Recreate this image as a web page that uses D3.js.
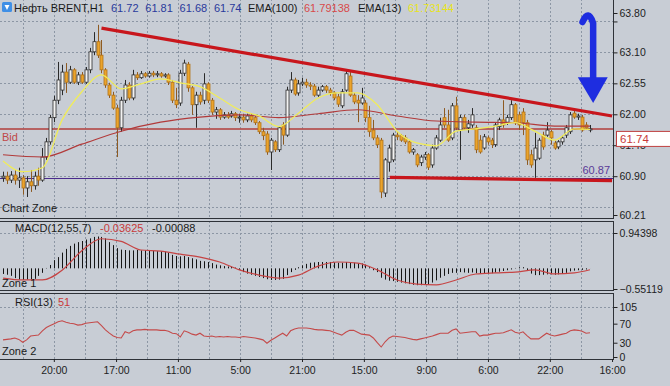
<!DOCTYPE html>
<html>
<head>
<meta charset="utf-8">
<script src="https://cdn.jsdelivr.net/npm/d3@7"></script>
<style>
body { margin: 0; background: #c8cdd5; }
svg text { font-family: "Liberation Sans", Arial, sans-serif; }
</style>
</head>
<body>
<svg id="chart" width="670" height="386"></svg>
<script>
// Нефть BRENT H1 - open, high, low, close per bar
var candles = [
[60.87,60.98,60.80,60.90],[60.90,60.98,60.76,60.83],[60.83,60.99,60.78,60.92],[60.92,61.01,60.75,60.83],
[60.83,61.05,60.69,60.87],[60.87,60.92,60.57,60.69],[60.69,60.90,60.53,60.80],[60.80,61.01,60.62,60.73],
[60.73,60.98,60.66,60.90],[60.90,61.05,60.73,60.83],[60.83,61.40,60.80,61.24],[61.24,61.58,61.19,61.51],
[61.51,61.99,61.46,61.94],[61.94,62.33,61.86,62.25],[62.25,62.93,62.18,62.61],[62.43,62.88,62.34,62.75],
[62.75,62.91,62.38,62.57],[62.57,62.86,62.54,62.79],[62.79,62.82,62.54,62.57],[62.57,62.75,62.52,62.70],
[62.70,62.75,62.54,62.57],[62.57,62.84,62.54,62.79],[62.79,63.18,62.73,63.11],[63.11,63.46,63.05,63.29],
[63.29,63.59,63.00,63.05],[63.05,63.32,62.73,62.79],[62.79,62.82,62.47,62.52],[62.52,62.56,62.29,62.34],
[62.34,62.40,62.08,62.11],[62.11,62.17,61.24,61.76],[61.76,62.31,61.69,62.25],[62.25,62.61,62.20,62.52],
[62.52,62.57,62.25,62.29],[62.29,62.79,62.25,62.70],[62.70,62.75,62.61,62.65],[62.65,62.77,62.63,62.72],
[62.72,62.75,62.65,62.68],[62.68,62.77,62.65,62.73],[62.73,62.77,62.66,62.70],[62.70,62.77,62.66,62.72],
[62.72,62.75,62.65,62.68],[62.68,62.73,62.65,62.70],[62.70,62.73,62.52,62.57],[62.57,62.61,62.20,62.25],
[62.25,62.47,62.11,62.17],[62.20,62.79,62.15,62.73],[62.73,62.97,62.68,62.91],[62.89,62.93,62.40,62.47],
[62.47,62.50,61.99,62.17],[62.17,62.40,61.76,62.34],[62.34,62.40,62.17,62.22],[62.25,62.73,62.18,62.54],
[62.54,62.57,62.20,62.25],[62.25,62.29,61.99,62.04],[62.04,62.13,61.92,62.08],[62.08,62.11,61.90,61.95],
[61.95,62.04,61.92,61.99],[61.99,62.04,61.92,61.95],[61.97,62.06,61.94,62.01],[62.01,62.04,61.88,61.94],
[61.94,62.01,61.85,61.95],[61.95,62.01,61.85,61.90],[61.90,62.01,61.86,61.97],[61.97,62.02,61.86,61.90],
[61.94,61.97,61.81,61.85],[61.85,61.88,61.65,61.69],[61.69,61.76,61.54,61.62],[61.65,61.70,61.28,61.33],
[61.33,61.58,61.01,61.54],[61.51,61.54,61.33,61.37],[61.37,61.79,61.33,61.76],[61.81,61.86,61.46,61.63],
[61.63,62.49,61.60,62.43],[62.43,62.75,62.38,62.61],[62.61,62.65,62.33,62.36],[62.38,62.61,62.33,62.54],
[62.54,62.65,62.50,62.57],[62.57,62.63,62.47,62.52],[62.52,62.57,62.43,62.50],[62.50,62.54,62.31,62.34],
[62.34,62.49,62.31,62.43],[62.43,62.52,62.40,62.49],[62.49,62.52,62.38,62.43],[62.43,62.47,62.33,62.38],
[62.38,62.41,62.25,62.29],[62.31,62.36,62.13,62.18],[62.15,62.45,62.11,62.40],[62.43,62.79,62.40,62.72],
[62.68,62.75,62.31,62.34],[62.34,62.38,62.18,62.22],[62.25,62.34,61.86,62.20],[62.20,62.47,62.17,62.29],
[62.20,62.25,61.86,61.94],[61.94,62.15,61.60,61.69],[61.72,61.90,61.54,61.58],[61.58,61.63,61.40,61.46],
[61.54,61.58,60.51,60.62],[60.60,61.22,60.53,61.19],[61.15,61.46,60.98,61.40],[61.19,61.67,61.15,61.63],
[61.63,61.69,61.54,61.60],[61.62,61.65,61.51,61.54],[61.58,61.63,61.47,61.51],[61.51,61.54,61.30,61.33],
[61.33,61.40,61.28,61.37],[61.28,61.31,61.06,61.10],[61.14,61.28,61.08,61.24],[61.24,61.33,61.19,61.28],
[61.28,61.31,61.01,61.06],[61.10,61.46,61.05,61.40],[61.40,61.63,61.37,61.58],[61.54,61.94,61.51,61.81],
[61.94,62.11,61.76,61.81],[61.81,62.08,61.51,61.54],[61.58,62.20,61.54,62.15],[62.15,62.31,61.72,61.76],
[61.72,61.99,61.19,61.94],[61.94,61.99,61.72,61.76],[61.76,61.90,61.67,61.83],[61.81,62.11,61.76,61.99],
[61.76,61.81,61.31,61.37],[61.54,61.63,61.30,61.33],[61.40,61.65,61.37,61.60],[61.58,61.62,61.46,61.51],
[61.54,61.58,61.40,61.46],[61.46,61.86,61.42,61.81],[61.78,61.94,61.72,61.90],[61.90,62.25,61.76,61.81],
[61.86,61.99,61.81,61.94],[61.94,62.25,61.90,62.17],[62.17,62.20,61.81,61.85],[61.99,62.04,61.72,61.81],
[62.04,62.11,61.63,61.85],[61.85,61.90,61.10,61.19],[61.28,61.37,61.05,61.10],[61.19,61.67,60.87,61.40],
[61.22,61.58,61.19,61.54],[61.63,61.69,61.37,61.42],[61.63,61.86,61.60,61.72],[61.69,61.72,61.46,61.58],
[61.49,61.53,61.37,61.40],[61.42,61.54,61.38,61.51],[61.51,61.62,61.46,61.58],[61.63,61.81,61.58,61.76],
[61.69,62.04,61.65,61.99],[62.02,62.10,61.92,61.95],[61.95,62.01,61.90,61.97],[61.95,61.99,61.69,61.72],
[61.81,61.86,61.72,61.76],[61.72,61.81,61.68,61.74]
];

var ema13Bars = [0,5,10,15,20,25,30,35,40,45,50,55,60,65,70,75,80,85,90,95,100,105,110,115,120,125,130,135,140,145,149];
var ema13 = [61.17,60.98,61.05,61.90,62.40,62.70,62.45,62.54,62.63,62.56,62.49,62.29,62.08,61.97,61.78,62.02,
             62.29,62.38,62.38,62.17,61.70,61.49,61.44,61.70,61.74,61.79,61.85,61.70,61.54,61.74,61.73];
var ema100Bars = [0,10,20,30,40,50,60,70,80,90,100,110,120,130,140,149];
var ema100 = [61.28,61.24,61.47,61.70,61.86,61.95,61.99,61.94,62.01,62.08,61.97,61.88,61.86,61.85,61.79,61.79];

var macdHist = [
-0.15,-0.17,-0.20,-0.26,-0.30,-0.31,-0.30,-0.30,-0.28,-0.20,-0.12,0.01,0.09,0.22,0.30,0.42,0.52,0.60,0.66,0.70,
0.73,0.77,0.80,0.84,0.85,0.84,0.80,0.70,0.62,0.54,0.50,0.49,0.48,0.48,0.49,0.48,0.48,0.47,0.47,0.46,
0.46,0.45,0.42,0.36,0.33,0.32,0.33,0.30,0.27,0.24,0.20,0.19,0.17,0.14,0.10,0.08,0.06,0.05,0.04,0.02,
-0.04,-0.10,-0.14,-0.17,-0.20,-0.23,-0.26,-0.29,-0.31,-0.31,-0.30,-0.28,-0.18,-0.10,-0.04,0.03,0.08,0.12,0.15,0.16,
0.17,0.17,0.17,0.17,0.16,0.15,0.15,0.17,0.16,0.15,0.14,0.13,0.10,0.03,-0.05,-0.10,-0.25,-0.30,-0.33,-0.34,
-0.36,-0.38,-0.40,-0.42,-0.44,-0.45,-0.45,-0.44,-0.43,-0.38,-0.32,-0.25,-0.20,-0.15,-0.12,-0.12,-0.10,-0.11,-0.12,-0.11,
-0.13,-0.14,-0.13,-0.14,-0.13,-0.11,-0.09,-0.07,-0.05,-0.03,0.01,0.03,0.03,-0.05,-0.14,-0.18,-0.18,-0.17,-0.16,-0.16,
-0.17,-0.16,-0.15,-0.12,-0.08,-0.06,-0.05,-0.04,-0.03,-0.00088
];
var signalBars = ema13Bars;
var macdSignal = [-0.26,-0.31,-0.31,-0.05,0.47,0.79,0.72,0.49,0.46,0.38,0.30,0.17,-0.04,-0.18,-0.26,-0.18,
                  0.06,0.17,0.14,-0.04,-0.31,-0.42,-0.44,-0.31,-0.15,-0.12,-0.10,-0.04,-0.15,-0.12,-0.03625];

var rsi = [
36,37,38,40,37,31,36,44,45,46,55,62,66,70,74,76,73,71,70,67,
68,71,72,73,74,66,57,50,44,41,40,53,50,55,57,57,58,57,57,57,
56,56,54,50,49,42,55,52,48,46,50,44,43,44,42,43,42,43,42,42,
41,43,42,41,40,38,36,29,35,40,45,50,44,55,59,61,61,61,60,58,
57,57,56,55,52,49,46,52,56,56,52,48,47,46,40,30,21,32,40,44,
43,42,41,39,37,36,38,40,42,44,47,50,50,50,56,59,50,51,52,53,
53,44,46,46,48,50,50,51,54,57,52,50,53,45,38,38,38,44,50,46,
44,46,48,50,55,57,56,54,50,51
];

var priceTicks = [63.80, 63.10, 62.55, 62.00, 61.45, 60.90, 60.21];
var priceGrid = [63.65, 63.10, 62.55, 62.00, 61.45, 60.90, 60.35];
var macdTicks = [0.94398, -0.55119];
var rsiTicks = [105, 70, 30, 0];
var timeLabels = ["20:00","17:00","11:00","5:00","21:00","15:00","9:00","6:00","22:00","16:00"];
var timeTickBars = [12.9, 28.7, 44.4, 60.2, 75.9, 91.6, 107.4, 123.1, 138.8, 154.6];
var gridBars = [5.1, 12.9, 20.8, 28.7, 36.5, 44.4, 52.3, 60.2, 68.0, 75.9, 83.8, 91.6, 99.5,
                107.4, 115.2, 123.1, 131.0, 138.8, 146.7];

var bidPrice = 61.74;
var levelPrice = 60.87;
var emaLegend = ["61.79138", "61.73144"];
var macdLegend = ["-0.03625", "-0.00088"];
var upperTrend = [[25, 63.53], [154.6, 61.97]];
var lowerTrend = [[98.2, 60.88], [154.6, 60.82]];

// ------------------------------------------------------------------------------------------------

var svg = d3.select("#chart");
svg.append("rect").attr("width", 670).attr("height", 386).attr("fill", "#c8cdd5");

var x = d3.scaleLinear().domain([0, candles.length - 1]).range([3, 590]);
var yPrice = d3.scaleLinear().domain([60.21, 63.80]).range([215, 13]);
var yMacd = d3.scaleLinear().domain([-0.55119, 0.94398]).range([289, 233]);
var yRsi = d3.scaleLinear().domain([0, 105]).range([357, 307]);

var gridColor = "#8c96a4";
var px = function(v) { return Math.round(v) + 0.5; };

//panels: main, macd, rsi
var panels = [
    {id: "main", top: -1, bottom: 218},
    {id: "macd", top: 221, bottom: 290},
    {id: "rsi", top: 293, bottom: 359}
];

var defs = svg.append("defs");
panels.forEach(function(p) {
    defs.append("clipPath").attr("id", "clip-" + p.id)
        .append("rect").attr("x", 0).attr("y", p.top).attr("width", 613).attr("height", p.bottom - p.top);
    var g = svg.append("g").attr("clip-path", "url(#clip-" + p.id + ")");
    g.selectAll("line.vgrid")
        .data(gridBars)
        .enter().append("line")
        .attr("x1", d => px(x(d))).attr("x2", d => px(x(d)))
        .attr("y1", p.top).attr("y2", p.bottom)
        .attr("stroke", gridColor).attr("stroke-dasharray", "2,2");
});

var main = svg.append("g").attr("clip-path", "url(#clip-main)");
main.selectAll("line.hgrid")
    .data(priceGrid)
    .enter().append("line")
    .attr("x1", 0).attr("x2", 613)
    .attr("y1", d => px(yPrice(d))).attr("y2", d => px(yPrice(d)))
    .attr("stroke", gridColor).attr("stroke-dasharray", "2,2");

svg.append("line").attr("x1", 0).attr("x2", 613)
    .attr("y1", px(yMacd(macdTicks[0]))).attr("y2", px(yMacd(macdTicks[0])))
    .attr("stroke", gridColor).attr("stroke-dasharray", "2,2");
svg.append("line").attr("x1", 0).attr("x2", 613)
    .attr("y1", px(yRsi(rsiTicks[0]))).attr("y2", px(yRsi(rsiTicks[0])))
    .attr("stroke", gridColor).attr("stroke-dasharray", "2,2");

// level lines
main.append("line").attr("x1", 0).attr("x2", 613)
    .attr("y1", px(yPrice(levelPrice))).attr("y2", px(yPrice(levelPrice)))
    .attr("stroke", "#4a2a8c").attr("stroke-width", 1.2);
main.append("line").attr("x1", 0).attr("x2", 613)
    .attr("y1", yPrice(bidPrice)).attr("y2", yPrice(bidPrice))
    .attr("stroke", "#b5504f").attr("stroke-width", 2).attr("opacity", 0.85);

// candles
var bars = main.selectAll("g.candle")
    .data(candles)
    .enter().append("g");

bars.append("line")
    .attr("x1", (d, i) => px(x(i))).attr("x2", (d, i) => px(x(i)))
    .attr("y1", d => yPrice(d[1])).attr("y2", d => yPrice(d[2]))
    .attr("stroke", d => d[3] >= d[0] ? "#2b2b2b" : "#8d5a22");

bars.append("rect")
    .attr("x", (d, i) => Math.round(x(i)) - 1)
    .attr("width", 3)
    .attr("y", d => yPrice(Math.max(d[0], d[3])))
    .attr("height", d => Math.max(1, Math.abs(yPrice(d[0]) - yPrice(d[3]))))
    .attr("fill", d => d[3] >= d[0] ? "#f2f2f2" : "#eba42c")
    .attr("stroke", d => d[3] >= d[0] ? "#2b2b2b" : "#b27318")
    .attr("stroke-width", 0.8);

// moving averages
var priceLine = d3.line()
    .x(d => x(d[0]))
    .y(d => yPrice(d[1]))
    .curve(d3.curveMonotoneX);

main.append("path")
    .attr("d", priceLine(d3.zip(ema100Bars, ema100)))
    .attr("fill", "none").attr("stroke", "#b23a3a").attr("stroke-width", 1.1);
main.append("path")
    .attr("d", priceLine(d3.zip(ema13Bars, ema13)))
    .attr("fill", "none").attr("stroke", "#f0ec5a").attr("stroke-width", 1.3);

// trend lines
[upperTrend, lowerTrend].forEach(function(t) {
    main.append("line")
        .attr("x1", x(t[0][0])).attr("y1", yPrice(t[0][1]))
        .attr("x2", x(t[1][0])).attr("y2", yPrice(t[1][1]))
        .attr("stroke", "#c8161c").attr("stroke-width", 3.2);
});

// blue arrow
var arrowPath = d3.path();
arrowPath.moveTo(x(147.1), yPrice(63.64));
arrowPath.quadraticCurveTo(x(148.6), yPrice(63.88), x(149.8), yPrice(63.62));
arrowPath.lineTo(x(149.8), yPrice(62.62));
main.append("path").attr("d", arrowPath.toString())
    .attr("fill", "none").attr("stroke", "#1e2de0").attr("stroke-width", 6.5)
    .attr("stroke-linecap", "round");
main.append("path")
    .attr("d", d3.line()([[x(145.9), yPrice(62.66)], [x(153.5), yPrice(62.66)], [x(149.8), yPrice(62.20)]]) + "Z")
    .attr("fill", "#1e2de0");

// macd
var macd = svg.append("g").attr("clip-path", "url(#clip-macd)");
macd.selectAll("line.hist")
    .data(macdHist)
    .enter().append("line")
    .attr("x1", (d, i) => px(x(i))).attr("x2", (d, i) => px(x(i)))
    .attr("y1", yMacd(0)).attr("y2", d => yMacd(d))
    .attr("stroke", "#151515").attr("stroke-width", 1);
macd.append("path")
    .attr("d", d3.line().x(d => x(d[0])).y(d => yMacd(d[1])).curve(d3.curveMonotoneX)(d3.zip(signalBars, macdSignal)))
    .attr("fill", "none").attr("stroke", "#c64444").attr("stroke-width", 1.2);

// rsi
var rsiG = svg.append("g").attr("clip-path", "url(#clip-rsi)");
rsiG.append("path")
    .attr("d", d3.line().x((d, i) => x(i)).y(d => yRsi(d))(rsi))
    .attr("fill", "none").attr("stroke", "#c44a4a").attr("stroke-width", 1.1);

// panel borders
panels.forEach(function(p) {
    svg.append("rect")
        .attr("x", -1).attr("y", p.top + 0.5)
        .attr("width", 614.5).attr("height", p.bottom - p.top)
        .attr("fill", "none").attr("stroke", "#2e3238").attr("stroke-width", 1);
});

// right axes
function styleAxis(g) {
    g.select(".domain").remove();
    g.attr("font-family", "Liberation Sans, Arial, sans-serif").attr("font-size", 10.5);
    g.selectAll("line").attr("stroke", "#222");
    g.selectAll("text").attr("fill", "#1e1e1e");
}

svg.append("g").attr("transform", "translate(613.5,0)")
    .call(d3.axisRight(yPrice).tickValues([63.65]).tickFormat("").tickSize(4))
    .call(styleAxis);
svg.append("g").attr("transform", "translate(613.5,0)")
    .call(d3.axisRight(yPrice).tickValues(priceTicks).tickFormat(d3.format(".2f")).tickSize(4).tickPadding(2))
    .call(styleAxis);
svg.append("g").attr("transform", "translate(613.5,0)")
    .call(d3.axisRight(yMacd).tickValues(macdTicks).tickFormat(d3.format(".5f")).tickSize(4).tickPadding(2))
    .call(styleAxis);
svg.append("g").attr("transform", "translate(613.5,0)")
    .call(d3.axisRight(yRsi).tickValues(rsiTicks).tickSize(4).tickPadding(2))
    .call(styleAxis);

// time axis
svg.append("g").attr("transform", "translate(0,359)")
    .call(d3.axisBottom(x).tickValues(timeTickBars).tickFormat((d, i) => timeLabels[i]).tickSize(3).tickPadding(5))
    .call(styleAxis);

// bid price box
var bidY = yPrice(bidPrice);
svg.append("rect").attr("x", 616.5).attr("y", bidY + 2.5).attr("width", 56).attr("height", 15)
    .attr("fill", "#ffffff").attr("stroke", "#c04040");
svg.append("text").attr("x", 620).attr("y", bidY + 14.5)
    .attr("font-size", 11.5).attr("fill", "#c83a3a").text(d3.format(".2f")(bidPrice));

svg.append("text").attr("x", 610).attr("y", yPrice(levelPrice) - 4)
    .attr("text-anchor", "end").attr("font-size", 11).attr("fill", "#5a3a98")
    .text(d3.format(".2f")(levelPrice));

// labels inside panels
svg.append("text").attr("x", 2).attr("y", bidY + 12).attr("font-size", 11).attr("fill", "#c04848").text("Bid");
svg.append("text").attr("x", 2).attr("y", 212).attr("font-size", 11).attr("fill", "#1a1a1a").text("Chart Zone");
svg.append("text").attr("x", 2).attr("y", 287).attr("font-size", 11).attr("fill", "#1a1a1a").text("Zone 1");
svg.append("text").attr("x", 2).attr("y", 355).attr("font-size", 11).attr("fill", "#1a1a1a").text("Zone 2");

var macdLabel = svg.append("text").attr("x", 15).attr("y", 232).attr("font-size", 11).attr("fill", "#1a1a1a");
macdLabel.append("tspan").text("MACD(12,55,7)");
macdLabel.append("tspan").attr("x", 100).attr("fill", "#c83a3a").text(macdLegend[0]);
macdLabel.append("tspan").attr("x", 152).text(macdLegend[1]);

var rsiLabel = svg.append("text").attr("x", 15).attr("y", 306).attr("font-size", 11).attr("fill", "#1a1a1a");
rsiLabel.append("tspan").text("RSI(13)");
rsiLabel.append("tspan").attr("x", 58).attr("fill", "#c83a3a").text(rsi[rsi.length - 1]);

// title
svg.append("rect").attr("x", 2).attr("y", 2).attr("width", 10).attr("height", 10).attr("rx", 1.5).attr("fill", "#3f8fe6");
svg.append("path").attr("d", "M4.5,5 L9.5,5 L7,10 Z").attr("fill", "#ffffff");

var last = candles[candles.length - 1];
var title = svg.append("text").attr("y", 12).attr("font-size", 11).attr("fill", "#1a1a1a");
title.append("tspan").attr("x", 14).text("Нефть BRENT,H1");
[last[0], last[1], last[2], last[3]].forEach(function(v, i) {
    title.append("tspan").attr("x", 111 + i * 34.3).attr("fill", "#2a3a9c").text(d3.format(".2f")(v));
});
title.append("tspan").attr("x", 248).text("EMA(100)");
title.append("tspan").attr("x", 304).attr("fill", "#d84a4a").text(emaLegend[0]);
title.append("tspan").attr("x", 358).text("EMA(13)");
title.append("tspan").attr("x", 408).attr("fill", "#e8e41c").text(emaLegend[1]);
</script>
</body>
</html>
